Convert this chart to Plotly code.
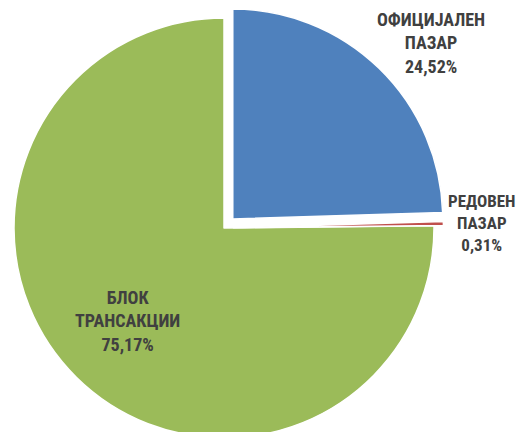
import math
import plotly.graph_objects as go

# Data
labels = ["ОФИЦИЈАЛЕН ПАЗАР", "РЕДОВЕН ПАЗАР", "БЛОК ТРАНСАКЦИИ"]
label_lines = [["ОФИЦИЈАЛЕН", "ПАЗАР"], ["РЕДОВЕН", "ПАЗАР"], ["БЛОК", "ТРАНСАКЦИИ"]]
values = [24.52, 0.31, 75.17]
colors = ["#4F81BD", "#C0504D", "#9BBB59"]
pulls = [0.06, 0.045, 0.0]

# Figure geometry (pixels, in figure coordinates)
W, H = 527, 430
CX, CY, R = 216, 220, 210

total = sum(values)
cum = 0.0
offsets = []
for v, p in zip(values, pulls):
    theta = math.radians(360.0 * (cum + v / 2) / total)
    cum += v
    d = p * R
    offsets.append((d * math.sin(theta), -d * math.cos(theta)))

fig = go.Figure()
# draw green (unpulled) first, then the exploded slices on top
for i in [2, 0, 1]:
    dx, dy = offsets[i]
    x0 = max(0.0, (CX + dx - R) / W)
    x1 = min(1.0, (CX + dx + R) / W)
    y0 = max(0.0, (H - (CY + dy + R)) / H)
    y1 = min(1.0, (H - (CY + dy - R)) / H)
    slice_colors = [c if j == i else "rgba(0,0,0,0)" for j, c in enumerate(colors)]
    line_w = [1.5 if j == i else 0 for j in range(len(values))]
    fig.add_trace(go.Pie(
        labels=labels,
        values=values,
        sort=False,
        direction="clockwise",
        rotation=0,
        textinfo="none",
        hoverinfo="label+percent",
        marker=dict(colors=slice_colors, line=dict(color="white", width=line_w)),
        domain=dict(x=[x0, x1], y=[y0, y1]),
        showlegend=False,
    ))

# label placement (pixel centers in figure coordinates) and sizes
label_pos = [(423, 35), (474, 215), (119, 313)]
label_size = [18, 17, 18]

annotations = []
for lines, v, (px, py), fs in zip(label_lines, values, label_pos, label_size):
    txt = "<br>".join(lines + [f"{v:.2f}".replace(".", ",") + "%"])
    annotations.append(dict(
        x=px / W, y=(H - py) / H, xref="paper", yref="paper", text=txt,
        showarrow=False, xanchor="center", yanchor="middle", align="center",
        font=dict(family="Liberation Sans Narrow, Roboto Condensed, Roboto, sans-serif",
                  size=fs, color="#404040", weight="bold"),
    ))

fig.update_layout(
    width=W, height=H,
    margin=dict(l=0, r=0, t=0, b=0),
    paper_bgcolor="white",
    plot_bgcolor="white",
    annotations=annotations,
)

fig.write_html("out.html")
